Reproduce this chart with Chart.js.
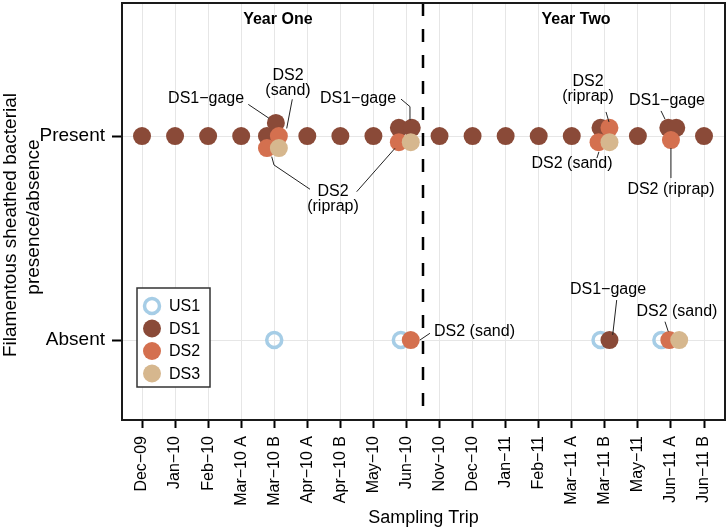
<!DOCTYPE html>
<html><head><meta charset="utf-8">
<script src="https://cdn.jsdelivr.net/npm/chart.js@4/dist/chart.umd.min.js"></script>
<style>html,body{margin:0;padding:0;background:#fff}#wrap{width:728px;height:528px;position:relative}</style>
</head><body><div id="wrap"><canvas id="c"></canvas></div>
<script>
// ---- data ----
const trips = ["Dec\u221209","Jan\u221210","Feb\u221210","Mar\u221210 A","Mar\u221210 B","Apr\u221210 A","Apr\u221210 B","May\u221210","Jun\u221210","Nov\u221210","Dec\u221210","Jan\u221211","Feb\u221211","Mar\u221211 A","Mar\u221211 B","May\u221211","Jun\u221211 A","Jun\u221211 B"];
const yLabels = ["Absent","Present"];
// 1 = present, 0 = absent, null = not sampled
const us1       = [null,null,null,null,0,null,null,null,0,null,null,null,null,null,0,null,0,null];
const ds1       = [1,1,1,1,1,1,1,1,1,1,1,1,1,1,1,1,1,1];
const ds1gage   = [null,null,null,null,1,null,null,null,1,null,null,null,null,null,0,null,1,null];
const ds2sand   = [null,null,null,null,1,null,null,null,0,null,null,null,null,null,1,null,0,null];
const ds2riprap = [null,null,null,null,1,null,null,null,1,null,null,null,null,null,1,null,1,null];
const ds3       = [null,null,null,null,1,null,null,null,1,null,null,null,null,null,1,null,0,null];
const yearLabels = ["Year One","Year Two"];

// ---- display jitter (axis units), keyed "site:tripIndex" ----
const jitter = {
  "DS1:4":[-0.22,0], "DS1gage:4":[0.05,0.064], "DS2sand:4":[0.14,0], "DS2riprap:4":[-0.22,-0.059], "DS3:4":[0.14,-0.059], "US1:4":[0,0],
  "DS1:8":[-0.23,0.04], "DS1gage:8":[0.16,0.04], "DS2riprap:8":[-0.23,-0.03], "DS3:8":[0.13,-0.03], "US1:8":[-0.17,0], "DS2sand:8":[0.13,0],
  "DS1:14":[-0.13,0.04], "DS2riprap:14":[0.14,0.04], "DS2sand:14":[-0.19,-0.03], "DS3:14":[0.14,-0.03], "US1:14":[-0.13,0], "DS1gage:14":[0.14,0],
  "DS1:16":[-0.08,0.04], "DS1gage:16":[0.16,0.04], "DS2riprap:16":[0,-0.02], "US1:16":[-0.29,0], "DS2sand:16":[-0.05,0], "DS3:16":[0.25,0]
};

function pts(site, arr){
  const out=[];
  arr.forEach((v,i)=>{
    if(v===null) return;
    const j = jitter[site+":"+i] || [0,0];
    out.push({x:i+1+j[0], y:v+j[1]});
  });
  return out;
}

// ---- annotation labels (axis units) ----
const notes = [
  {lines:["DS1\u2212gage"], x:2.94, y:1.181, lead:[[4.215,1.155],[4.841,1.087]]},
  {lines:["DS2","(sand)"], x:5.416, y:1.294, lead:[[5.546,1.180],[5.377,1.037]]},
  {lines:["DS1\u2212gage"], x:7.534, y:1.181, lead:[[8.834,1.181],[9.106,1.144],[9.106,1.078]]},
  {lines:["DS2","(riprap)"], x:6.777, y:0.730, lead:[[6.082,0.739],[4.993,0.858],[4.923,0.899]], lead2:[[7.494,0.727],[8.653,0.940]]},
  {lines:["DS2","(riprap)"], x:14.49, y:1.265, lead:[[15.035,1.118],[15.126,1.069]]},
  {lines:["DS1\u2212gage"], x:16.88, y:1.176, lead:[[16.70,1.123],[16.82,1.083]]},
  {lines:["DS2 (sand)"], x:14.007, y:0.863, lead:[[14.82,0.922],[14.76,0.892]]},
  {lines:["DS2 (riprap)"], x:17.0, y:0.735, lead:[[17.0,0.941],[17.0,0.794]]},
  {lines:["DS2 (sand)"], x:11.058, y:0.041, lead:[[9.407,0],[9.71,0.033]]},
  {lines:["DS1\u2212gage"], x:15.096, y:0.245, lead:[[15.359,0.196],[15.238,0.025]]},
  {lines:["DS2 (sand)"], x:17.18, y:0.139, lead:[[16.82,0.090],[16.92,0.041]]}
];

const COL = {US1:"#a6cde6", DS1:"#8a4a38", DS2:"#d4704f", DS3:"#d6b78e"};
const FONT = "'Liberation Sans', Arial, Helvetica, sans-serif";

const deco = {
  id:'deco',
  beforeDatasetsDraw(chart){
    const {ctx, chartArea:a, scales:{x}} = chart;
    ctx.save();
    ctx.strokeStyle="#000"; ctx.lineWidth=2.5; ctx.setLineDash([13,13]);
    const xd = x.getPixelForValue(9.5);
    ctx.beginPath(); ctx.moveTo(xd,a.top); ctx.lineTo(xd,a.bottom); ctx.stroke();
    ctx.restore();
  },
  afterDraw(chart){
    const {ctx, chartArea:a, scales:{x,y}} = chart;
    ctx.save();
    // plot box
    ctx.strokeStyle="#1a1a1a"; ctx.lineWidth=2;
    ctx.strokeRect(a.left, a.top, a.right-a.left, a.bottom-a.top);
    // year labels
    ctx.fillStyle="#000"; ctx.font="bold 16px "+FONT; ctx.textAlign="center"; ctx.textBaseline="middle";
    ctx.fillText(yearLabels[0], x.getPixelForValue(5.11), y.getPixelForValue(1.569));
    ctx.fillText(yearLabels[1], x.getPixelForValue(14.13), y.getPixelForValue(1.569));
    // annotations
    ctx.font="16px "+FONT; ctx.strokeStyle="#222"; ctx.lineWidth=1;
    notes.forEach(n=>{
      const px=x.getPixelForValue(n.x), py=y.getPixelForValue(n.y);
      n.lines.forEach((t,k)=>ctx.fillText(t, px, py+k*15));
      [n.lead,n.lead2].forEach(L=>{
        if(!L) return;
        ctx.beginPath();
        L.forEach((p,k)=>{const X=x.getPixelForValue(p[0]), Y=y.getPixelForValue(p[1]); k?ctx.lineTo(X,Y):ctx.moveTo(X,Y);});
        ctx.stroke();
      });
    });
    // legend
    const lx=a.left+15, ly=a.top+285;
    ctx.fillStyle="#fff"; ctx.fillRect(lx,ly,73,99);
    ctx.strokeStyle="#333"; ctx.lineWidth=1.5; ctx.strokeRect(lx,ly,73,99);
    const items=[["US1",COL.US1,true],["DS1",COL.DS1],["DS2",COL.DS2],["DS3",COL.DS3]];
    items.forEach((it,k)=>{
      const cy=ly+18+k*22.5, cx=lx+15;
      ctx.beginPath();
      if(it[2]){ ctx.arc(cx,cy,7.5,0,Math.PI*2); ctx.strokeStyle=it[1]; ctx.lineWidth=3.5; ctx.stroke(); }
      else { ctx.arc(cx,cy,9,0,Math.PI*2); ctx.fillStyle=it[1]; ctx.fill(); }
      ctx.fillStyle="#000"; ctx.textAlign="left"; ctx.font="16px "+FONT;
      ctx.fillText(it[0], lx+32, cy+1);
    });
    // axis titles
    ctx.fillStyle="#000"; ctx.textAlign="center"; ctx.textBaseline="alphabetic";
    ctx.font="18px "+FONT;
    ctx.fillText("Sampling Trip", (a.left+a.right)/2, 523);
    ctx.font="19px "+FONT;
    ctx.save(); ctx.translate(15.5,225); ctx.rotate(-Math.PI/2); ctx.fillText("Filamentous sheathed bacterial",0,0); ctx.restore();
    ctx.save(); ctx.translate(38.5,217); ctx.rotate(-Math.PI/2); ctx.fillText("presence/absence",0,0); ctx.restore();
    ctx.restore();
  }
};

function noPad(s){ s.paddingTop=0; s.paddingBottom=0; s.paddingLeft=0; s.paddingRight=0; }

new Chart(document.getElementById('c'), {
  type:'scatter',
  data:{datasets:[
    {label:"US1", data:pts("US1",us1), order:4, pointRadius:7.5, pointBorderWidth:3.5, borderColor:COL.US1, pointBorderColor:COL.US1, backgroundColor:"rgba(0,0,0,0)", pointBackgroundColor:"rgba(0,0,0,0)"},
    {label:"DS1", data:pts("DS1",ds1).concat(pts("DS1gage",ds1gage)), order:3, pointRadius:9, pointBorderWidth:0, backgroundColor:COL.DS1, pointBackgroundColor:COL.DS1},
    {label:"DS2", data:pts("DS2sand",ds2sand).concat(pts("DS2riprap",ds2riprap)), order:2, pointRadius:9, pointBorderWidth:0, backgroundColor:COL.DS2, pointBackgroundColor:COL.DS2},
    {label:"DS3", data:pts("DS3",ds3), order:1, pointRadius:9, pointBorderWidth:0, backgroundColor:COL.DS3, pointBackgroundColor:COL.DS3}
  ]},
  options:{
    responsive:true, maintainAspectRatio:false, animation:false, events:[],
    layout:{autoPadding:false, padding:{top:3,right:3,left:0,bottom:0}},
    plugins:{legend:{display:false}, tooltip:{enabled:false}},
    scales:{
      x:{type:'linear', min:0.395, max:18.635,
        afterBuildTicks:s=>{s.ticks=trips.map((t,i)=>({value:i+1}));},
        afterFit:s=>{s.height=108; noPad(s);},
        ticks:{callback:v=>trips[Math.round(v)-1], autoSkip:false, maxRotation:90, minRotation:90, padding:8, color:"#000", font:{family:FONT,size:16}},
        grid:{color:"#e6e6e6", lineWidth:1, tickColor:"#000", tickLength:8, tickWidth:2},
        border:{display:false}
      },
      y:{type:'linear', min:-0.392, max:1.652,
        afterBuildTicks:s=>{s.ticks=[{value:0},{value:1}];},
        afterFit:s=>{s.width=122; noPad(s);},
        ticks:{callback:v=>yLabels[v], padding:7, color:"#000", font:{family:FONT,size:19}},
        grid:{color:"#e6e6e6", lineWidth:1, tickColor:"#000", tickLength:10, tickWidth:2},
        border:{display:false}
      }
    }
  },
  plugins:[deco]
});
</script>
</body></html>
